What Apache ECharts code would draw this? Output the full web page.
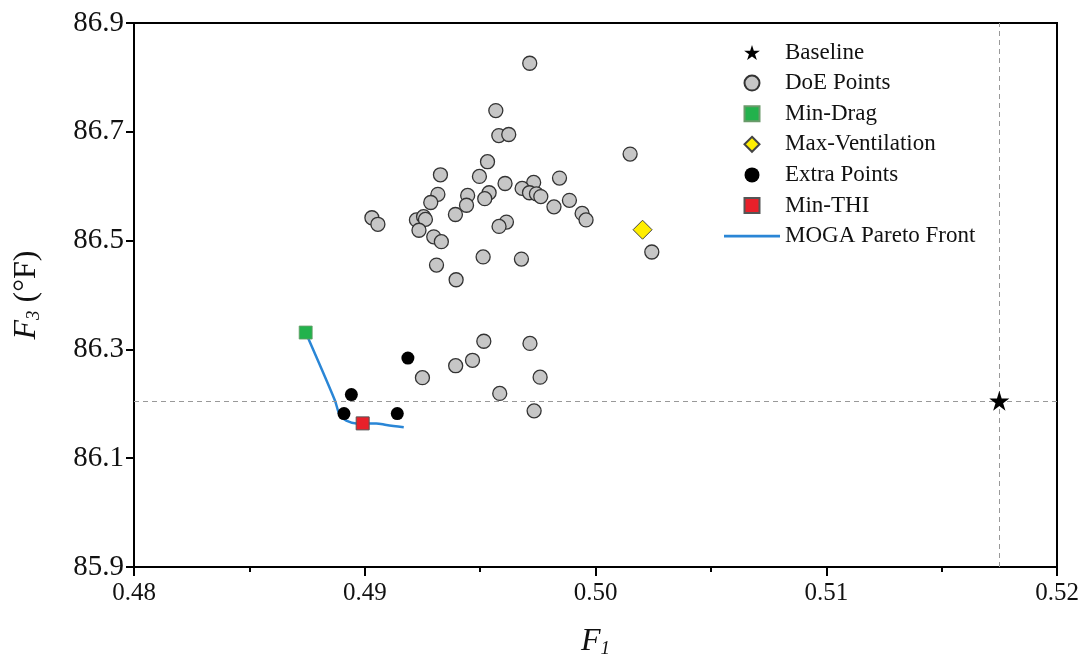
<!DOCTYPE html>
<html>
<head>
<meta charset="utf-8">
<script src="https://cdn.jsdelivr.net/npm/echarts@6/dist/echarts.min.js"></script>
<style>html,body{margin:0;padding:0;background:#fff;}#c{width:1083px;height:666px;}</style>
</head>
<body>
<div id="c"></div>
<script>
// ---- data (F1, F3) ----
const baseline = [[0.5175, 86.2055]];
const doePoints = [
  [0.49715, 86.826], [0.49568, 86.739], [0.49581, 86.693], [0.49624, 86.695],
  [0.50150, 86.659], [0.49532, 86.645], [0.49328, 86.621], [0.49497, 86.618],
  [0.49608, 86.605], [0.49732, 86.607], [0.49844, 86.615], [0.49682, 86.596],
  [0.49714, 86.588], [0.49744, 86.586], [0.49763, 86.581], [0.49317, 86.585],
  [0.49286, 86.570], [0.49446, 86.583], [0.49441, 86.565], [0.49539, 86.588],
  [0.49520, 86.577], [0.49887, 86.574], [0.49820, 86.562], [0.49942, 86.550],
  [0.49959, 86.538], [0.49031, 86.542], [0.49057, 86.530], [0.49224, 86.538],
  [0.49255, 86.544], [0.49263, 86.539], [0.49235, 86.519], [0.49393, 86.548],
  [0.49614, 86.534], [0.49582, 86.526], [0.49299, 86.507], [0.49332, 86.498],
  [0.50244, 86.479], [0.49513, 86.470], [0.49679, 86.466], [0.49311, 86.455],
  [0.49396, 86.428],
  [0.49516, 86.315], [0.49716, 86.311], [0.49760, 86.249], [0.49585, 86.219],
  [0.49734, 86.187], [0.49250, 86.248], [0.49394, 86.270], [0.49467, 86.280]
];
const minDrag = [[0.48744, 86.331]];
const maxVentilation = [[0.50204, 86.520]];
const extraPoints = [[0.48910, 86.182], [0.48942, 86.217], [0.49187, 86.284], [0.49141, 86.182]];
const minTHI = [[0.48991, 86.164]];
const paretoFront = [
  [0.48744, 86.331], [0.48870, 86.207], [0.48892, 86.179], [0.48920, 86.169],
  [0.48964, 86.164], [0.49050, 86.164], [0.49094, 86.161], [0.49169, 86.157]
];
const xTicks = [0.48, 0.49, 0.50, 0.51, 0.52];
const yTicks = [85.9, 86.1, 86.3, 86.5, 86.7, 86.9];
const refX = 0.5175, refY = 86.2055;

const STAR = 'path://M50,0 L61.2,34.5 L97.6,34.5 L68.2,55.9 L79.4,90.5 L50,69.1 L20.6,90.5 L31.8,55.9 L2.4,34.5 L38.8,34.5 Z';
const SQUARE = 'path://M0,0 L10,0 L10,10 L0,10 Z';
const DIAMOND = 'path://M10,0 L20,10 L10,20 L0,10 Z';
const LINE_ICON = 'path://M0,0 L56,0 L56,2.6 L0,2.6 Z';
const FONT = '"Liberation Serif", "Times New Roman", serif';

const chart = echarts.init(document.getElementById('c'));
chart.setOption({
  animation: false,
  backgroundColor: '#fff',
  textStyle: { fontFamily: FONT },
  grid: { left: 134, right: 26, top: 23, bottom: 99, show: true, borderColor: '#000', borderWidth: 2 },
  legend: {
    orient: 'vertical', left: 719, top: 36, itemWidth: 56, itemHeight: 15, itemGap: 7.6,
    textStyle: { fontFamily: FONT, fontSize: 23, color: '#111', lineHeight: 22 },
    data: [
      { name: 'Baseline', icon: STAR },
      { name: 'DoE Points', icon: 'circle' },
      { name: 'Min-Drag', icon: SQUARE },
      { name: 'Max-Ventilation', icon: DIAMOND },
      { name: 'Extra Points', icon: 'circle' },
      { name: 'Min-THI', icon: SQUARE },
      { name: 'MOGA Pareto Front', icon: LINE_ICON }
    ]
  },
  xAxis: {
    type: 'value', min: xTicks[0], max: xTicks[xTicks.length - 1], interval: 0.01,
    axisLine: { show: true, onZero: false, lineStyle: { color: '#000', width: 2 } },
    axisTick: { show: true, length: 9, lineStyle: { color: '#000', width: 2 } },
    minorTick: { show: true, splitNumber: 2, length: 5, lineStyle: { color: '#000', width: 2 } },
    splitLine: { show: false },
    axisLabel: { fontFamily: FONT, fontSize: 25, color: '#111', margin: 14, formatter: v => v.toFixed(2) },
    name: '{i|F}{s|1}', nameLocation: 'middle', nameGap: 58,
    nameTextStyle: { rich: {
      i: { fontFamily: FONT, fontStyle: 'italic', fontSize: 32, color: '#111' },
      s: { fontFamily: FONT, fontStyle: 'italic', fontSize: 19, color: '#111', verticalAlign: 'bottom', padding: [14, 0, 0, 0] }
    } }
  },
  yAxis: {
    type: 'value', min: yTicks[0], max: yTicks[yTicks.length - 1],
    axisLine: { show: true, onZero: false, lineStyle: { color: '#000', width: 2 } },
    axisTick: { show: true, length: 8, customValues: yTicks, lineStyle: { color: '#000', width: 2 } },
    splitLine: { show: false },
    axisLabel: { fontFamily: FONT, fontSize: 29, color: '#111', margin: 10, customValues: yTicks, formatter: v => v.toFixed(1) },
    name: '{i|F}{s|3}{n| (°F)}', nameLocation: 'middle', nameGap: 91, nameRotate: 90,
    nameTextStyle: { rich: {
      i: { fontFamily: FONT, fontStyle: 'italic', fontSize: 32, color: '#111' },
      s: { fontFamily: FONT, fontStyle: 'italic', fontSize: 19, color: '#111', verticalAlign: 'bottom', padding: [12, 0, 0, 0] },
      n: { fontFamily: FONT, fontSize: 32, color: '#111' }
    } }
  },
  series: [
    {
      name: 'DoE Points', type: 'scatter', data: doePoints, symbol: 'circle', symbolSize: 14, z: 2,
      itemStyle: { color: '#c6c6c6', borderColor: '#333', borderWidth: 1.3, opacity: 1 }
    },
    {
      name: 'MOGA Pareto Front', type: 'line', data: paretoFront, symbol: 'none', smooth: 0.3, z: 3,
      lineStyle: { color: '#2a86d6', width: 2.5 }, itemStyle: { color: '#2a86d6' }
    },
    {
      name: 'Extra Points', type: 'scatter', data: extraPoints, symbol: 'circle', symbolSize: 13, z: 4,
      itemStyle: { color: '#000', opacity: 1 }
    },
    {
      name: 'Min-Drag', type: 'scatter', data: minDrag, symbol: 'rect', symbolSize: 13, z: 5,
      itemStyle: { color: '#22b24c', borderColor: '#6a9a6a', borderWidth: 0.8, opacity: 1 }
    },
    {
      name: 'Min-THI', type: 'scatter', data: minTHI, symbol: 'rect', symbolSize: 13, z: 5,
      itemStyle: { color: '#e8202a', borderColor: '#555', borderWidth: 1, opacity: 1 }
    },
    {
      name: 'Max-Ventilation', type: 'scatter', data: maxVentilation, symbol: 'diamond', symbolSize: 19, z: 5,
      itemStyle: { color: '#ffee00', borderColor: '#444', borderWidth: 1, opacity: 1 }
    },
    {
      name: 'Baseline', type: 'scatter', data: baseline, symbol: STAR, symbolSize: 20, z: 6,
      itemStyle: { color: '#000', opacity: 1 },
      markLine: {
        silent: true, symbol: 'none', label: { show: false },
        lineStyle: { color: '#999', type: [5, 4], width: 1 },
        data: [
          [{ coord: [refX, yTicks[0]] }, { coord: [refX, yTicks[yTicks.length - 1]] }],
          [{ coord: [xTicks[0], refY] }, { coord: [xTicks[xTicks.length - 1], refY] }]
        ]
      }
    }
  ]
});
</script>
</body>
</html>
